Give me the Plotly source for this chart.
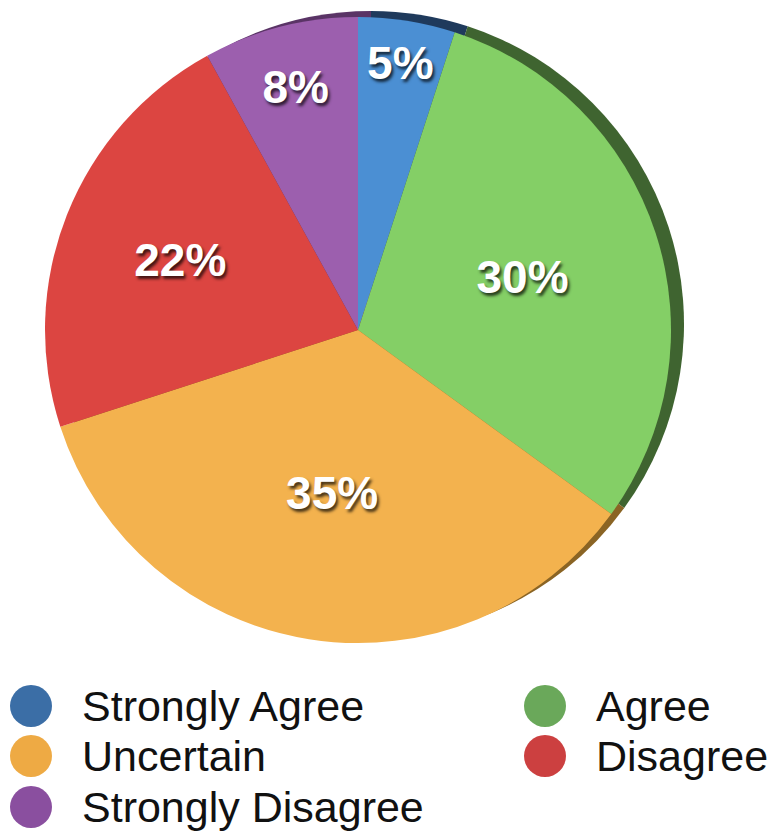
import plotly.graph_objects as go

# Survey answers, clockwise from 12 o'clock
labels = ["Strongly Agree", "Agree", "Uncertain", "Disagree", "Strongly Disagree"]
values = [5, 30, 35, 22, 8]
slice_colors = ["#4b8fd3", "#84cf66", "#f3b24e", "#dc4541", "#9c5fae"]
rim_colors = ["#1f3a5c", "#3f6430", "#8a6424", "#7a2422", "#5a3466"]
legend_colors = ["#3b6ea6", "#6aa85a", "#eeaa44", "#cc4040", "#8a4f9f"]

W, H = 779, 831
OFF = 8  # page body margin pushes everything by 8px


def px(x):
    return (x - OFF) / W


def py(y):
    return 1 - (y - OFF) / H


fig = go.Figure()

# darker copy shifted up/right gives the thin 3D rim
fig.add_trace(go.Pie(
    labels=labels,
    values=values,
    sort=False,
    direction="clockwise",
    marker=dict(colors=rim_colors, line=dict(width=0)),
    textinfo="none",
    hoverinfo="skip",
    showlegend=False,
    domain=dict(x=[px(58), px(684)], y=[py(639), py(9)]),
))

fig.add_trace(go.Pie(
    labels=labels,
    values=values,
    sort=False,
    direction="clockwise",
    marker=dict(colors=slice_colors, line=dict(width=0)),
    texttemplate="%{value}%",
    textposition="inside",
    insidetextorientation="horizontal",
    insidetextfont=dict(family="Liberation Sans", size=46, color="white",
                        weight="bold", shadow="2px 3px 3px rgba(0,0,0,0.7)"),
    showlegend=False,
    domain=dict(x=[px(45), px(671)], y=[py(645), py(15)]),
))

# legend drawn by hand: big round markers in two columns
legend_pos = [(31, 706), (545, 706), (31, 756), (545, 756), (31, 807)]
for name, col, (cx, cy) in zip(labels, legend_colors, legend_pos):
    fig.add_shape(type="circle", xref="paper", yref="paper",
                  x0=px(cx - 21), x1=px(cx + 21), y0=py(cy + 21), y1=py(cy - 21),
                  fillcolor=col, line=dict(width=0))
    fig.add_annotation(text=name, xref="paper", yref="paper",
                       x=px(cx + 49), y=py(cy), xanchor="left", yanchor="middle",
                       showarrow=False,
                       font=dict(family="Liberation Sans", size=43, color="#111111"))

fig.update_layout(
    width=W,
    height=H,
    margin=dict(l=0, r=0, t=0, b=0),
    paper_bgcolor="white",
    plot_bgcolor="white",
    uniformtext=dict(minsize=46, mode="show"),
)

fig.write_html("out.html")
